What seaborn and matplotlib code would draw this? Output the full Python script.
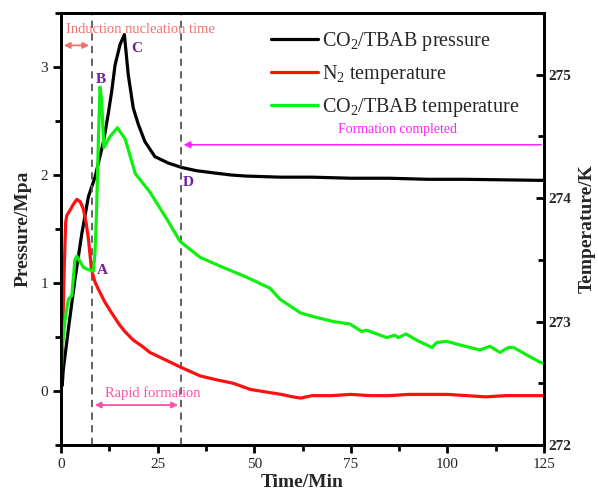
import numpy as np
import pandas as pd
import matplotlib
matplotlib.use("Agg")
import matplotlib.pyplot as plt
from matplotlib.ticker import MultipleLocator
import seaborn as sns

# ---------------- data ----------------
t_pressure = [0, 0.3, 0.6, 1.9, 3.6, 5.4, 7.1, 8.8, 11.0, 12.2, 13.1, 14.0, 15.3, 16.4,
              17.4, 18.7, 20.0, 21.7, 24.3, 27.8, 31.2, 35, 39.4, 44, 48, 56.7, 65, 75, 85,
              95, 105, 115, 125]
pressure = [0.15, 0.05, 0.20, 0.57, 1.03, 1.46, 1.80, 1.98, 2.31, 2.56, 2.77, 3.02, 3.21, 3.30,
            2.93, 2.62, 2.47, 2.31, 2.17, 2.11, 2.07, 2.04, 2.02, 2.00, 1.99, 1.98, 1.98, 1.97, 1.97,
            1.96, 1.96, 1.955, 1.95]

t_n2 = [0, 0.3, 0.8, 1.2, 1.5, 2.3, 3.2, 4.1, 5.0, 5.8, 6.5, 7.1, 7.9, 8.8, 9.7, 11.3, 13.1,
        15, 16.5, 18.7, 21, 23, 27, 31, 36, 40, 44.6, 49, 53, 57, 60, 62, 65, 70, 75, 80,
        85, 90, 95, 100, 105, 110, 115, 120, 125]
n2_temp = [272.55, 272.70, 273.40, 273.80, 273.86, 273.90, 273.95, 273.99, 273.97, 273.91,
           273.80, 273.67, 273.42, 273.32, 273.26, 273.16, 273.07, 272.98, 272.92, 272.85,
           272.80, 272.75, 272.69, 272.63, 272.56, 272.53, 272.50, 272.45, 272.43, 272.41,
           272.39, 272.38, 272.40, 272.40, 272.41, 272.40, 272.40, 272.41, 272.41, 272.41,
           272.40, 272.39, 272.40, 272.40, 272.40]

t_co2 = [0, 0.2, 1.0, 1.9, 2.8, 3.6, 4.1, 5.8, 7.1, 8.4, 8.8, 9.2, 9.7, 10.1, 10.5, 11.1,
         12.7, 14.6, 16.6, 18.0, 19.2, 23, 27.4, 30.8, 36, 41.1, 48, 54.1, 56.7, 60.1, 62,
         65.3, 70.5, 74.8, 77.8, 79.1, 84.3, 86.4, 87.3, 89.3, 92, 96, 97.2, 99.8,
         103.3, 105.9, 108.4, 111, 113.6, 115.8, 117.1, 120.5, 124, 125]
co2_temp = [272.55, 272.75, 273.00, 273.18, 273.21, 273.50, 273.53, 273.44, 273.42, 273.41,
            273.56, 273.89, 274.50, 274.90, 274.80, 274.41, 274.50, 274.57, 274.48, 274.33,
            274.20, 274.05, 273.83, 273.65, 273.52, 273.45, 273.36, 273.27, 273.18, 273.11,
            273.07, 273.04, 273.00, 272.98, 272.92, 272.93, 272.87, 272.89, 272.87, 272.90,
            272.85, 272.79, 272.83, 272.84, 272.81, 272.79, 272.77, 272.80, 272.75, 272.79,
            272.79, 272.73, 272.67, 272.66]

labels = ["CO$_2$/TBAB pressure", "N$_2$ temperature", "CO$_2$/TBAB temperature"]
colors = ["black", "#ff1010", "#10f010"]

# ---------------- style ----------------
sns.set_theme(style="ticks")
plt.rcParams["font.family"] = ["Liberation Serif", "DejaVu Serif"]
plt.rcParams["mathtext.fontset"] = "custom"
plt.rcParams["mathtext.rm"] = "Liberation Serif"
plt.rcParams["mathtext.it"] = "Liberation Serif:italic"
plt.rcParams["mathtext.bf"] = "Liberation Serif:bold"

fig = plt.figure(figsize=(5.98, 5.01), dpi=100)
ax = fig.add_axes([61/598, 1-445/501, (544-61)/598, (445-13)/501])
ax2 = ax.twinx()

df_p = pd.DataFrame({"t": t_pressure, "v": pressure})
df_n = pd.DataFrame({"t": t_n2, "v": n2_temp})
df_c = pd.DataFrame({"t": t_co2, "v": co2_temp})

sns.lineplot(data=df_p, x="t", y="v", ax=ax, color=colors[0], lw=2.3, label=labels[0], legend=False)
sns.lineplot(data=df_n, x="t", y="v", ax=ax2, color=colors[1], lw=2.3, label=labels[1], legend=False)
sns.lineplot(data=df_c, x="t", y="v", ax=ax2, color=colors[2], lw=2.3, label=labels[2], legend=False)

ax.set_xlim(0, 125)
ax.set_ylim(-0.5, 3.5)
ax2.set_ylim(272, 275.5)

ax.xaxis.set_major_locator(MultipleLocator(25))
ax.xaxis.set_minor_locator(MultipleLocator(12.5))
ax.yaxis.set_major_locator(MultipleLocator(1))
ax.yaxis.set_minor_locator(MultipleLocator(0.5))
ax2.yaxis.set_major_locator(MultipleLocator(1))
ax2.yaxis.set_minor_locator(MultipleLocator(0.5))

ax.tick_params(axis="both", which="major", direction="out", length=6, width=2, labelsize=11, color="black")
ax.tick_params(axis="both", which="minor", direction="out", length=4, width=2, color="black")
ax.tick_params(axis="x", top=False, which="both")
ax2.tick_params(axis="y", which="major", direction="in", length=6, width=2, labelsize=11, color="black")
ax2.tick_params(axis="y", which="minor", direction="in", length=4, width=2, color="black")
for lab in ax2.get_yticklabels():
    lab.set_fontweight("bold")

for a in (ax, ax2):
    for s in a.spines.values():
        s.set_linewidth(2)
        s.set_color("black")
        s.set_visible(True)

ax.set_xlabel("Time/Min", fontsize=14, fontweight="bold", labelpad=2)
ax.set_ylabel("Pressure/Mpa", fontsize=14, fontweight="bold", labelpad=6)
ax2.set_ylabel("Temperature/K", fontsize=14, fontweight="bold", labelpad=5)

# dashed lines
for xv in (8, 31):
    ax.axvline(xv, color="#555555", ls=(0, (4, 3)), lw=1.3)

# annotations
ax.text(1.3, 3.35, "Induction nucleation time", color="#f07070", fontsize=10.5, va="center", ha="left")
ax.annotate("", xy=(0, 3.20), xytext=(8, 3.20),
            arrowprops=dict(arrowstyle="<|-|>", color="#f07070", lw=1.3, mutation_scale=9))
ax.text(23.7, -0.02, "Rapid formation", color="#ff50a8", fontsize=10.5, ha="center", va="center")
ax.annotate("", xy=(8, -0.13), xytext=(31, -0.13),
            arrowprops=dict(arrowstyle="<|-|>", color="#ff50a8", lw=1.3, mutation_scale=9))
ax.text(87, 2.42, "Formation completed", color="#ff22ff", fontsize=10, ha="center", va="center")
ax.annotate("", xy=(31, 2.28), xytext=(125, 2.28),
            arrowprops=dict(arrowstyle="-|>", color="#ff22ff", lw=1.1, mutation_scale=10))

purple = "#70209a"
ax.text(10.8, 1.12, "A", color=purple, fontsize=11, fontweight="bold", ha="center", va="center")
ax.text(10.3, 2.88, "B", color=purple, fontsize=11, fontweight="bold", ha="center", va="center")
ax.text(19.6, 3.17, "C", color=purple, fontsize=11, fontweight="bold", ha="center", va="center")
ax.text(32.9, 1.93, "D", color=purple, fontsize=11, fontweight="bold", ha="center", va="center")

# legend
h1, l1 = ax.get_legend_handles_labels()
h2, l2 = ax2.get_legend_handles_labels()
leg = ax2.legend(h1 + h2, l1 + l2, loc="upper right", bbox_to_anchor=(0.984, 1.0),
                 frameon=False, fontsize=14.5, handlelength=2.3, handletextpad=0.2,
                 labelspacing=0.5, borderaxespad=0.45)

fig.savefig("out.png", dpi=100)
